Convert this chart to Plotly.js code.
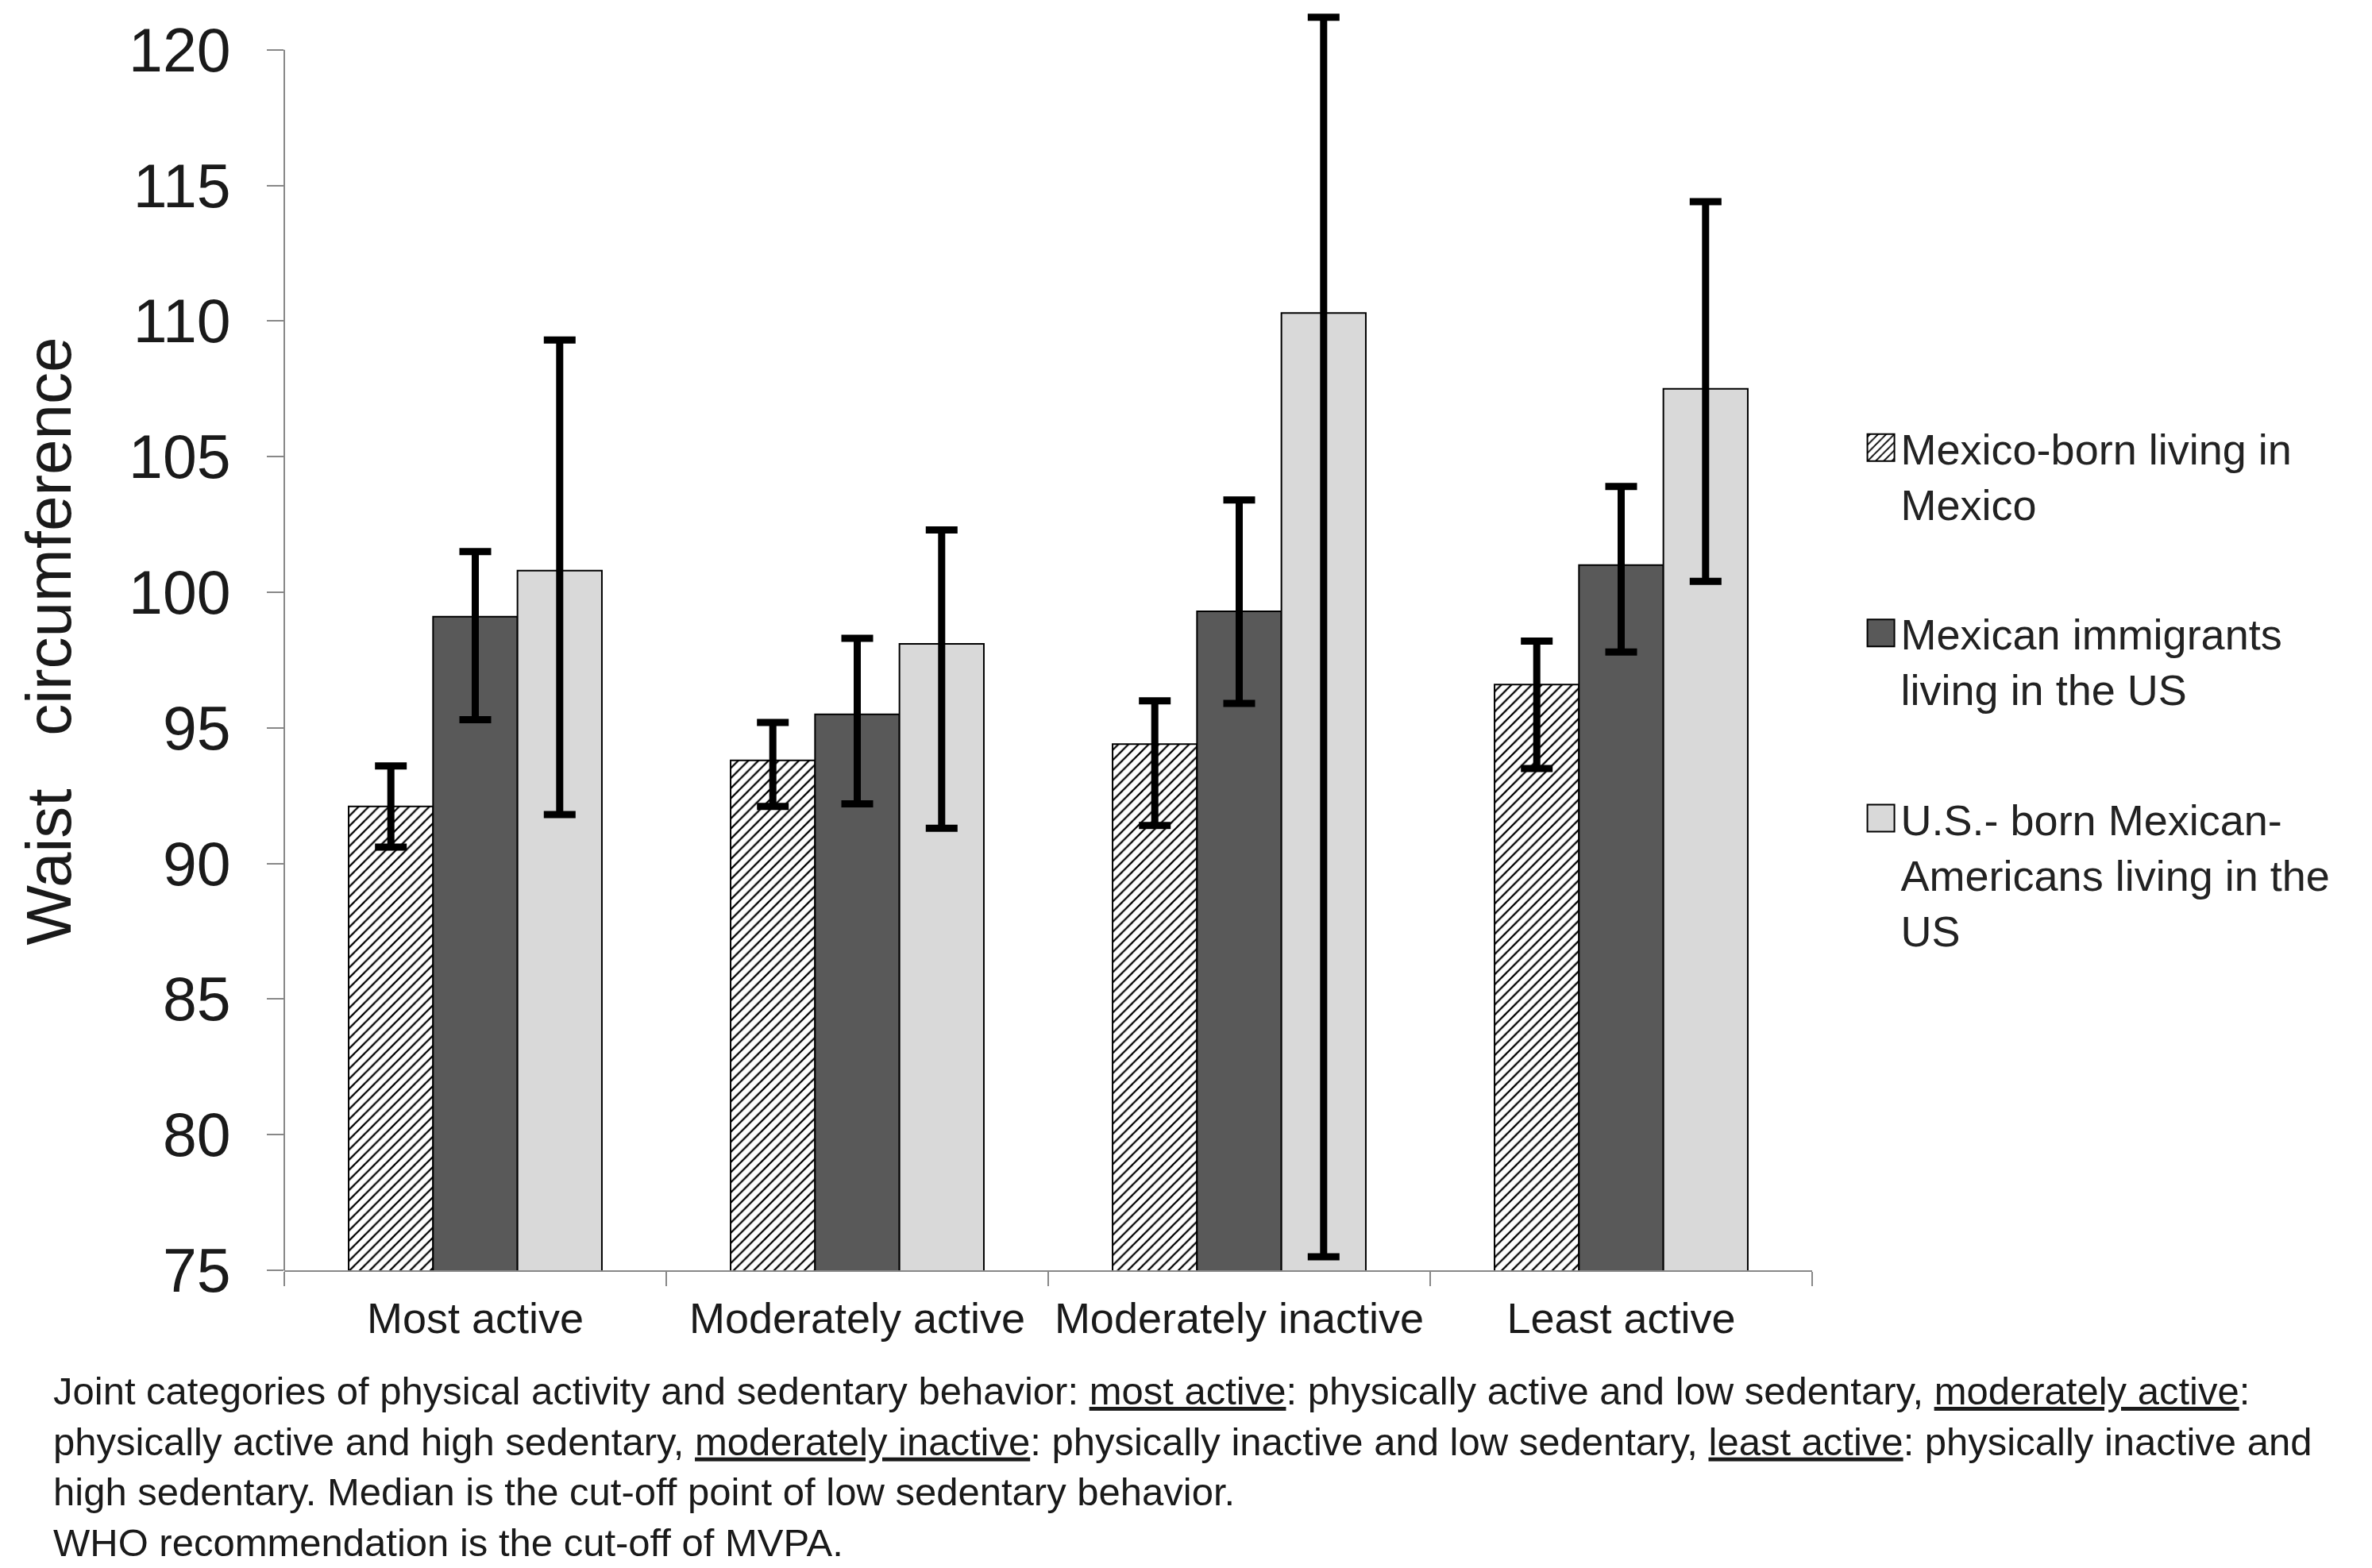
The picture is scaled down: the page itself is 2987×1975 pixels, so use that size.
<!DOCTYPE html>
<html>
<head>
<meta charset="utf-8">
<script src="https://cdn.plot.ly/plotly-3.0.1.min.js"></script>
<style>
  html, body { margin: 0; padding: 0; background: #fff; }
  #chart { width: 2987px; height: 1975px; }
</style>
</head>
<body>
<div id="chart"></div>
<script>
/* Waist circumference by joint activity category, three groups, with CI bars */

const CATEGORIES = ['Most active', 'Moderately active', 'Moderately inactive', 'Least active'];

const SERIES_NAMES = [
  'Mexico-born living in<br>Mexico',
  'Mexican immigrants<br>living in the US',
  'U.S.- born Mexican-<br>Americans living in the<br>US'
];

// bar heights
const mexicoBorn = [92.1, 93.8, 94.4, 96.6];
const immigrants = [99.1, 95.5, 99.3, 101.0];
const usBorn = [100.8, 98.1, 110.3, 107.5];

// upper / lower ends of the error bars
const mexicoBornHi = [93.6, 95.2, 96.0, 98.2];
const mexicoBornLo = [90.6, 92.1, 91.4, 93.5];
const immigrantsHi = [101.5, 98.3, 103.4, 103.9];
const immigrantsLo = [95.3, 92.2, 95.9, 97.8];
const usBornHi = [109.3, 102.3, 121.2, 114.4];
const usBornLo = [91.8, 91.3, 75.5, 100.4];

const Y_TICKS = [75, 80, 85, 90, 95, 100, 105, 110, 115, 120];
const Y_AXIS_TOP = 120;   // axis line stops here, the tallest error bar pokes above it

const CAPTION =
  'Joint categories of physical activity and sedentary behavior: <u>most active</u>: physically active and low sedentary, <u>moderately active</u>:<br>' +
  'physically active and high sedentary, <u>moderately inactive</u>: physically inactive and low sedentary, <u>least active</u>: physically inactive and<br>' +
  'high sedentary. Median is the cut-off point of low sedentary behavior.<br>' +
  'WHO recommendation is the cut-off of MVPA.';

const FONT = '"Liberation Sans", Arial, sans-serif';
const NB = '\u00a0';

function errorBars(vals, hi, lo) {
  return {
    type: 'data',
    symmetric: false,
    array: hi.map((h, i) => +(h - vals[i]).toFixed(2)),
    arrayminus: lo.map((l, i) => +(vals[i] - l).toFixed(2)),
    color: '#000',
    thickness: 9,
    width: 20,
  };
}

const outline = { color: '#000', width: 2 };

const traces = [
  {
    type: 'bar', x: CATEGORIES, y: mexicoBorn, name: SERIES_NAMES[0], legendgroup: 'a',
    marker: {
      color: '#fff', line: outline,
      pattern: { shape: '/', fgcolor: '#000', bgcolor: '#fff', size: 9, solidity: 0.25 },
    },
    error_y: errorBars(mexicoBorn, mexicoBornHi, mexicoBornLo),
  },
  {
    type: 'bar', x: CATEGORIES, y: immigrants, name: SERIES_NAMES[1], legendgroup: 'b',
    marker: { color: '#595959', line: outline },
    error_y: errorBars(immigrants, immigrantsHi, immigrantsLo),
  },
  {
    type: 'bar', x: CATEGORIES, y: usBorn, name: SERIES_NAMES[2], legendgroup: 'c',
    marker: { color: '#d9d9d9', line: outline },
    error_y: errorBars(usBorn, usBornHi, usBornLo),
  },
];

const layout = {
  width: 2987,
  height: 1975,
  margin: { l: 358, r: 705, t: 15, b: 375 },
  paper_bgcolor: '#fff',
  plot_bgcolor: '#fff',
  font: { family: FONT, color: '#1a1a1a' },
  barmode: 'group',
  bargap: 0.337,
  bargroupgap: 0,
  showlegend: true,
  legend: {
    x: 1.032, xanchor: 'left',
    y: 0.68, yanchor: 'top',
    font: { size: 54, color: '#222' },
    valign: 'top',
    itemwidth: 40,
    tracegroupgap: 90,
    bgcolor: 'rgba(0,0,0,0)',
  },
  xaxis: {
    type: 'category',
    tickson: 'boundaries',
    ticks: 'outside',
    ticklen: 18,
    tickwidth: 2,
    tickcolor: '#888',
    showline: true,
    linecolor: '#888',
    linewidth: 2,
    showgrid: false,
    zeroline: false,
    ticklabelstandoff: 12,
    tickfont: { size: 54, color: '#1a1a1a' },
  },
  yaxis: {
    range: [75, 121.4],
    tickvals: Y_TICKS,
    ticks: 'outside',
    ticklen: 21,
    tickwidth: 2,
    tickcolor: '#888',
    showline: false,
    showgrid: false,
    zeroline: false,
    tickfont: { size: 77, color: '#1a1a1a' },
    ticklabelstandoff: 30,
    title: {
      text: NB + 'Waist' + NB.repeat(3) + 'circumference',
      font: { size: 80, color: '#1a1a1a' },
      standoff: 46,
    },
  },
  shapes: [
    {
      type: 'line', xref: 'paper', yref: 'y',
      x0: 0, x1: 0, y0: 75, y1: Y_AXIS_TOP,
      line: { color: '#888', width: 2 },
    },
  ],
  annotations: [
    {
      xref: 'paper', yref: 'paper',
      x: -0.1523, y: -0.0775,
      xanchor: 'left', yanchor: 'top', align: 'left',
      showarrow: false,
      text: CAPTION,
      font: { size: 49, color: '#1a1a1a' },
    },
  ],
};

Plotly.newPlot('chart', traces, layout, { displayModeBar: false, staticPlot: true }).then(gd => {
  // Excel-style legend keys are bigger than Plotly's default 12px swatch
  gd.querySelectorAll('.legend .legendpoints path').forEach(p => {
    p.setAttribute('d', 'M17,17H-17V-17H17Z');
  });
});
</script>
</body>
</html>
